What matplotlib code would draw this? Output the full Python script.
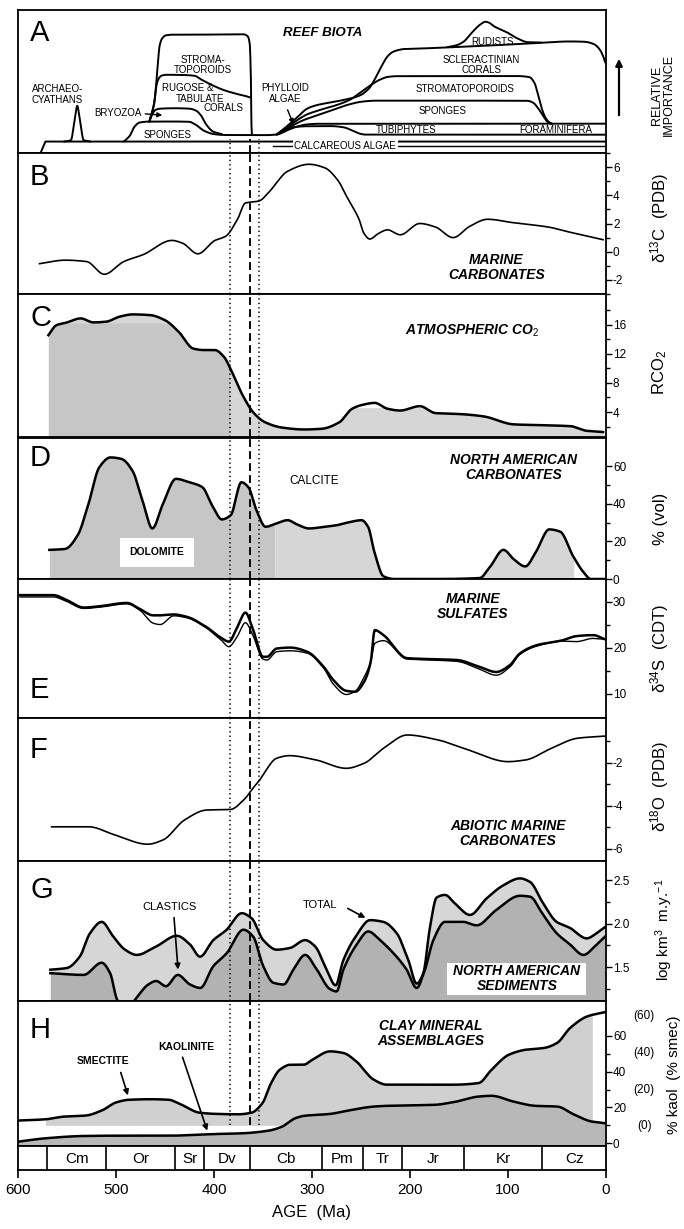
import numpy as np
import matplotlib
matplotlib.use("Agg")
import matplotlib.pyplot as plt
from matplotlib.ticker import FormatStrFormatter

# ---------------- DATA (age in Ma) ----------------
# A  reef biota (relative importance, arbitrary 0-100 units)
a_algae_age = [577, 572, 0]
a_algae_v = [0, 8, 8]
a_archaeo_age = [553, 546, 542, 539.5, 537, 533, 526]
a_archaeo_v = [8, 9, 24, 33, 24, 9, 8]
a_spongeP_age = [492, 486, 481, 476, 465, 440, 425, 418, 410, 400, 390, 370, 345]
a_spongeP_v = [8, 12, 18.5, 21.3, 22, 22, 21.8, 19.5, 15.5, 13.2, 12.6, 12.5, 12.5]
a_bryo_age = [466, 463, 460, 455, 440, 425, 418, 413, 408, 401, 392]
a_bryo_v = [22, 27, 30, 31, 31.3, 31, 29.5, 26, 20, 15, 13.2]
a_rugose_age = [466, 461, 458.5, 456, 453, 448, 430, 420, 412, 402, 390, 375, 366, 363]
a_rugose_v = [22, 35, 48, 52.5, 54.2, 54.7, 54.5, 54, 51, 47.5, 44, 41, 39.5, 38.8]
a_stromP_age = [466, 461, 458.5, 457, 455.5, 453, 449, 440, 400, 370, 365.5, 363.5, 362.3, 361.8, 361.3]
a_stromP_v = [22, 35, 52, 65, 75, 80, 82.3, 82.8, 82.8, 83, 81.5, 76, 50, 20, 12.5]
a_tubi_age = [345, 335, 328, 320, 300, 280, 268, 258, 250, 244, 0]
a_tubi_v = [12.5, 13, 15, 18, 18.8, 18.8, 18, 15.5, 13.3, 12.8, 12.8]
a_spongeMb_age = [336, 325, 315, 305, 290, 0]
a_spongeMb_v = [13, 16, 18.5, 20, 20.5, 20.5]
a_spongeMt_age = [336, 325, 315, 305, 290, 275, 262, 248, 235, 150, 80, 74, 69, 64, 60, 56]
a_spongeMt_v = [13, 17, 21, 24, 27.5, 31, 34, 36, 36.6, 36.6, 36.5, 35, 31, 26, 22, 20.5]
a_stromM_age = [336, 325, 315, 305, 290, 275, 262, 250, 240, 230, 222, 210, 150, 90, 78, 73, 69, 65, 62, 58, 55]
a_stromM_v = [13, 18, 23, 27, 30.5, 33.5, 37, 42.5, 47.5, 51.5, 53.3, 53.8, 53.8, 53.8, 53, 49, 40, 30, 25, 21.5, 20.5]
a_scler_age = [336, 325, 315, 305, 295, 280, 265, 252, 242, 234, 228, 223, 218, 212, 205, 180, 150, 100, 60, 38, 22, 12, 6, 2, 0.5]
a_scler_v = [13, 19, 25, 31, 33.5, 35.5, 37.5, 40, 45, 54, 62, 67.5, 70.5, 72, 72.8, 73.3, 74.2, 75.8, 77.3, 78, 77.8, 76, 72, 66, 63]
a_rudist_age = [162, 152, 145, 139, 133, 127, 123, 119, 114, 108, 100, 90, 80, 72, 66]
a_rudist_v = [74, 75.5, 78, 82.5, 87, 90.5, 91.8, 91, 88.5, 86.5, 84, 80, 77.5, 77.3, 77.2]

# B  delta13C (PDB)
b_age = [578, 552, 530, 512, 492, 472, 443, 432, 416.5, 399, 388, 376, 368, 354, 343, 325, 303, 287,
         274, 263, 252, 247, 241, 232, 223, 210, 190, 174, 156, 139, 121, 94, 59, 32, 3]
b_d13c = [-0.85, -0.6, -0.7, -1.6, -0.7, -0.2, 0.8, 0.6, -0.15, 0.8, 1.1, 2.3, 3.45, 3.6, 4.3, 5.7, 6.2, 5.95,
          5.1, 3.7, 2.3, 1.3, 0.9, 1.3, 1.55, 1.2, 2.0, 1.75, 1.0, 1.8, 2.3, 2.05, 1.75, 1.3, 0.85]

# C  RCO2
c_age = [569, 561, 550, 536, 523, 510, 496, 483, 465, 450, 436, 421, 410, 399, 390, 381, 370, 359, 348,
         330, 308, 290, 272, 259, 248, 236, 223, 210, 190, 174, 147, 125, 94, 54, 36, 19, 3]
c_rco2 = [14.55, 15.9, 16.3, 16.85, 16.3, 16.4, 17.1, 17.4, 17.3, 16.6, 15.0, 12.7, 12.5, 12.5, 11.6, 9.3,
          6.1, 3.8, 2.6, 1.85, 1.6, 1.7, 2.6, 4.45, 5.0, 5.25, 4.45, 4.2, 4.8, 3.85, 3.7, 3.4, 2.3, 2.15,
          2.05, 1.4, 1.25]

# D  dolomite % (vol) of North American carbonates
d_age = [568, 552, 539, 528, 517, 505.6, 494.4, 483.3, 472, 463, 452, 438.8, 425.4, 412, 401, 392, 383,
         372, 365, 356, 347.4, 336, 325, 314, 303, 287, 274, 260.6, 249.4, 242.8, 236, 227, 216, 171.5,
         129, 118, 104.7, 93.5, 82.4, 71.3, 57.9, 46.8, 33.4, 22.3, 15.6, 0]
d_dolo = [15.5, 16, 23.4, 40.1, 59.5, 64.7, 63.9, 57.7, 40.1, 26.9, 40.1, 53.3, 51.5, 48.9, 38.3, 31.7,
          33.9, 51.5, 48.9, 35.7, 27.8, 29.6, 31.3, 28.7, 26.9, 27.8, 28.7, 30.4, 31.3, 27.8, 13.7, 1.4,
          0, 0, 0.5, 6.7, 15.5, 10.2, 6.7, 14.6, 26.4, 25.2, 12, 3.2, 0, 0]

# E  delta34S (CDT), two marine sulfate curves
e_age = [598, 564, 550, 533, 516, 489, 475, 462, 455, 441, 428, 408, 392, 385, 376, 368, 360, 350, 346,
         336, 322, 305, 288, 278, 265, 256, 247, 240, 236, 227, 203, 180, 152, 129, 112, 98, 88, 71, 44,
         30, 13, 1]
e_s1 = [31.4, 31.4, 30.3, 28.7, 29.0, 29.7, 28.3, 27.0, 27.0, 27.2, 26.7, 24.5, 22.0, 21.3, 24.5, 27.6,
        23.8, 18.0, 18.0, 19.8, 20.0, 19.1, 15.8, 12.9, 10.6, 10.4, 12.5, 17.0, 23.8, 22.7, 17.7, 17.5,
        17.3, 15.8, 14.7, 16.2, 18.7, 20.5, 21.6, 22.5, 22.7, 21.8]
e_s2 = [31.0, 31.0, 30.0, 28.5, 28.8, 29.5, 28.0, 25.3, 25.0, 26.9, 26.5, 24.3, 21.5, 20.2, 22.5, 25.4,
        22.5, 17.5, 17.3, 19.1, 19.3, 18.8, 15.5, 12.0, 9.8, 10.5, 13.5, 17.0, 20.9, 21.5, 17.5, 17.3,
        17.0, 15.3, 14.0, 15.8, 18.5, 20.3, 21.4, 21.3, 22.0, 21.8]

# F  delta18O (PDB), abiotic marine carbonates
f_age = [565.7, 527.8, 501, 467.7, 452, 430, 407.6, 383, 369.7, 358.6, 354, 336, 323, 296, 265, 247,
         225, 203, 171.5, 140, 100, 82, 55.7, 29, 0.5]
f_d18o = [-4.99, -4.99, -5.37, -5.8, -5.6, -4.67, -4.21, -4.18, -3.74, -3.1, -2.85, -1.8, -1.68, -1.88,
          -2.27, -2.04, -1.27, -0.72, -0.95, -1.42, -1.96, -1.88, -1.34, -0.87, -0.77]

# G  North American sediments, log km3/m.y.
g_total_age = [567, 550, 537, 526.5, 514.6, 502.7, 490.8, 478.9, 458.5, 438, 424.5, 414.3, 400.7, 387,
               371.7, 361.5, 349.7, 336, 322.4, 307, 297, 285, 276, 268, 254.4, 240.8, 227.2, 213.6,
               201.7, 193.2, 186.4, 179.6, 172.8, 164.3, 154, 138.8, 121.8, 104.8, 87.8, 77.6, 64, 50.4,
               36.7, 19.7, 9.5, 1]
g_total = [1.47, 1.49, 1.62, 1.89, 2.02, 1.85, 1.70, 1.64, 1.74, 1.86, 1.76, 1.62, 1.81, 1.93, 2.12,
           2.06, 1.81, 1.70, 1.72, 1.81, 1.74, 1.47, 1.29, 1.58, 1.87, 2.04, 2.02, 1.89, 1.58, 1.31, 1.43,
           1.96, 2.30, 2.33, 2.23, 2.10, 2.29, 2.44, 2.52, 2.48, 2.23, 2.02, 1.95, 1.83, 1.89, 1.96]
g_clast_age = [567, 533, 514.6, 506, 499, 490, 479, 467, 459, 449, 437, 424.5, 414, 400.7, 387, 370, 360,
               349.7, 339.5, 329, 319, 307, 295, 282, 275, 268, 254.4, 242.6, 230.6, 215.3, 203.4, 193.2,
               184.7, 176.2, 164.3, 145.6, 132, 111.6, 87.8, 77.6, 64, 50.4, 36.7, 23.1, 9.5, 1]
g_clast = [1.43, 1.41, 1.55, 1.43, 1.13, 1.0, 1.15, 1.30, 1.34, 1.28, 1.41, 1.30, 1.26, 1.51, 1.66, 1.93,
           1.85, 1.51, 1.32, 1.30, 1.47, 1.64, 1.47, 1.25, 1.22, 1.47, 1.76, 1.91, 1.81, 1.64, 1.47, 1.26,
           1.47, 1.81, 2.02, 2.02, 1.98, 2.16, 2.32, 2.31, 2.10, 1.89, 1.76, 1.64, 1.76, 1.85]

# H  clay mineral assemblages
h_smec_age = [600, 571.9, 553.1, 530.9, 513, 500, 486.5, 464, 446.3, 433, 415, 397.4, 375, 361.7, 350.6,
              341.7, 332.8, 321.6, 308.3, 299.4, 281.5, 268, 254.8, 237, 223.6, 196.9, 156.8, 130, 116.7,
              98.9, 81, 63.3, 49.9, 36.5, 18.7, 0.9]
h_smec = [12.7, 13.4, 14.9, 15.5, 18.7, 22.8, 24.3, 24.6, 24.3, 21.5, 17.1, 16.4, 16.2, 17.1, 22.4, 33.6,
          41.1, 43.9, 43.9, 46.7, 51.3, 50.4, 45.7, 35.5, 32.7, 32.7, 32.7, 33.6, 41.1, 49.5, 52.3, 53.2,
          56, 64.4, 70.9, 73.2]
h_kaol_age = [600, 572, 532, 486.5, 442, 397.4, 370.6, 344, 330.5, 317, 308.3, 281.5, 259, 237, 219,
              174.6, 152.4, 130, 116.7, 94.4, 72, 49.9, 32, 14.3, 0.9]
h_kaol = [0.9, 2.8, 4.1, 4.3, 4.3, 5.2, 5.6, 7.1, 9.3, 14.0, 15.3, 16.4, 18.7, 20.5, 21.0, 21.5, 23.3,
          26.1, 26.5, 23.3, 20.9, 20.5, 15.9, 12.1, 11.2]

# geologic periods
period_bounds = [600, 570, 510, 440, 410, 363, 290, 248, 208, 145, 65, 0]
period_names = ["", "Cm", "Or", "Sr", "Dv", "Cb", "Pm", "Tr", "Jr", "Kr", "Cz"]
boundary_dotted = [384, 354]
boundary_dashed = 363

# ---------------- helpers ----------------
def pchip(x, y, xq):
    x = np.asarray(x, float); y = np.asarray(y, float)
    o = np.argsort(x); x = x[o]; y = y[o]
    h = np.diff(x); d = np.diff(y) / h
    n = len(x)
    m = np.zeros(n)
    for k in range(1, n - 1):
        if d[k - 1] * d[k] > 0:
            w1 = 2 * h[k] + h[k - 1]; w2 = h[k] + 2 * h[k - 1]
            m[k] = (w1 + w2) / (w1 / d[k - 1] + w2 / d[k])
    m[0] = d[0]; m[-1] = d[-1]
    xq = np.asarray(xq, float)
    i = np.clip(np.searchsorted(x, xq) - 1, 0, n - 2)
    t = (xq - x[i]) / h[i]
    h00 = (1 + 2 * t) * (1 - t) ** 2
    h10 = t * (1 - t) ** 2
    h01 = t ** 2 * (3 - 2 * t)
    h11 = t ** 2 * (t - 1)
    out = h00 * y[i] + h10 * h[i] * m[i] + h01 * y[i + 1] + h11 * h[i] * m[i + 1]
    return np.where((xq < x[0]) | (xq > x[-1]), np.nan, out)

def smooth(age, val, n=900):
    a = np.asarray(age, float)
    xs = np.linspace(a.min(), a.max(), n)
    return xs, pchip(age, val, xs)

plt.rcParams['font.family'] = ['Liberation Sans', 'DejaVu Sans']
plt.rcParams['mathtext.fontset'] = 'custom'
plt.rcParams['mathtext.rm'] = 'Liberation Sans'
plt.rcParams['mathtext.it'] = 'Liberation Sans:italic'
plt.rcParams['mathtext.bf'] = 'Liberation Sans:bold'
plt.rcParams['axes.unicode_minus'] = False
plt.rcParams['axes.linewidth'] = 1.3

W, H = 684, 1229
fig = plt.figure(figsize=(W / 100, H / 100), dpi=100)
L, R = 18, 606
LIGHT = '#d6d6d6'

def add_panel(top, bot, ylim, major=None, minor=None, fmt=None):
    ax = fig.add_axes([L / W, 1 - bot / H, (R - L) / W, (bot - top) / H])
    ax.set_xlim(600, 0)
    ax.set_ylim(*ylim)
    ax.set_xticks([])
    ax.yaxis.tick_right()
    if major is not None:
        ax.set_yticks(major)
        if fmt:
            ax.yaxis.set_major_formatter(FormatStrFormatter(fmt))
    else:
        ax.set_yticks([])
    if minor is not None:
        ax.set_yticks(minor, minor=True)
    ax.tick_params(axis='y', which='major', direction='out', length=4, width=1, labelsize=8.5, pad=1)
    ax.tick_params(axis='y', which='minor', direction='out', length=3, width=1)
    return ax

def ftext(x, y, s, **kw):
    fig.text(x / W, 1 - y / H, s, **kw)

def vlines(ax, ymin=0.0, ymax=1.0):
    for a in boundary_dotted:
        ax.axvline(a, ymin=ymin, ymax=ymax, color='k', ls=(0, (0.9, 2.0)), lw=1.1, zorder=6)
    ax.axvline(boundary_dashed, ymin=ymin, ymax=ymax, color='k', ls=(0, (4.2, 2.2)), lw=1.35, zorder=6)

BI = dict(fontweight='bold', fontstyle='italic', fontsize=10, ha='center', va='center', linespacing=1.1)

# ---------------- A ----------------
axA = add_panel(10, 153, (0, 100))
axA.set_yticks([])
lwA = 1.4
axA.plot(a_algae_age, a_algae_v, color='k', lw=lwA)
axA.plot([340, 0], [5.2, 5.2], color='k', lw=1.0)
for age, val in [(a_archaeo_age, a_archaeo_v), (a_spongeP_age, a_spongeP_v), (a_bryo_age, a_bryo_v),
                 (a_rugose_age, a_rugose_v), (a_stromP_age, a_stromP_v), (a_tubi_age, a_tubi_v),
                 (a_spongeMb_age, a_spongeMb_v), (a_spongeMt_age, a_spongeMt_v),
                 (a_stromM_age, a_stromM_v), (a_scler_age, a_scler_v), (a_rudist_age, a_rudist_v)]:
    xs, ys = smooth(age, val)
    axA.plot(xs, ys, color='k', lw=lwA, solid_capstyle='round')
vlines(axA, ymin=0.0, ymax=0.1)
ta = dict(fontsize=7, ha='center', va='center', linespacing=1.05)
axA.text(560, 41, 'ARCHAEO-\nCYATHANS', **ta)
axA.text(498, 28.2, 'BRYOZOA', **ta)
axA.annotate('', xy=(450, 26.3), xytext=(473, 27.5),
             arrowprops=dict(arrowstyle='-|>', lw=1.0, color='k', mutation_scale=7))
axA.text(447, 12.8, 'SPONGES', **ta)
axA.text(411, 61.5, 'STROMA-\nTOPOROIDS', **ta)
axA.text(427, 45.2, 'RUGOSE &', **ta)
axA.text(414, 37.5, 'TABULATE', **ta)
axA.text(390, 31.3, 'CORALS', **ta)
axA.text(327, 41.5, 'PHYLLOID\nALGAE', **ta)
axA.annotate('', xy=(318, 18.5), xytext=(326, 32),
             arrowprops=dict(arrowstyle='-|>', lw=1.0, color='k', mutation_scale=7))
axA.text(289, 84, 'REEF BIOTA', fontweight='bold', fontstyle='italic', fontsize=9.5, ha='center', va='center')
axA.text(115.6, 77.6, 'RUDISTS', **ta)
axA.text(127, 61.7, 'SCLERACTINIAN\nCORALS', **ta)
axA.text(144, 44.5, 'STROMATOPOROIDS', **ta)
axA.text(166.7, 29.5, 'SPONGES', **ta)
axA.text(204, 16.3, 'TUBIPHYTES', **ta)
axA.text(51, 16.3, 'FORAMINIFERA', **ta)
axA.text(266, 4.8, 'CALCAREOUS ALGAE', fontsize=7, ha='center', va='center',
         bbox=dict(facecolor='white', edgecolor='none', pad=1.0), zorder=7)
ftext(30, 33, 'A', fontsize=21, ha='left', va='center')
ftext(663, 95, 'RELATIVE\nIMPORTANCE', rotation=90, fontsize=9, ha='center', va='center', linespacing=1.0)
fig.add_artist(matplotlib.patches.FancyArrowPatch((619 / W, 1 - 118 / H), (619 / W, 1 - 56 / H),
               transform=fig.transFigure, arrowstyle='-|>', mutation_scale=10, lw=1.6, color='k'))

# ---------------- B ----------------
axB = add_panel(153, 294, (-3, 7), [-2, 0, 2, 4, 6], [-3, -1, 1, 3, 5, 7])
xs, ys = smooth(b_age, b_d13c)
axB.plot(xs, ys, color='k', lw=1.2)
vlines(axB)
axB.text(112, -1.1, 'MARINE\nCARBONATES', **BI)
ftext(30, 177, 'B', fontsize=21, ha='left', va='center')
ftext(660, 218, 'δ$^{13}$C  (PDB)', rotation=90, fontsize=12, ha='center', va='center')

# ---------------- C ----------------
axC = add_panel(294, 437.5, (0.5, 20.2), [4, 8, 12, 16], [2, 6, 10, 14, 18])
xg = np.linspace(0, 600, 2401)
cy = pchip(c_age, c_rco2, xg)
ok = ~np.isnan(cy)
top_light = np.where(xg < 345, np.minimum(cy, 4.6), cy)
axC.fill_between(xg[ok], 0.5, top_light[ok], color=LIGHT, lw=0)
dk = ok & (xg >= 384)
axC.fill_between(xg[dk], 0.5, np.minimum(cy, 16.2)[dk], color='#c6c6c6', lw=0)
xs, ys = smooth(c_age, c_rco2)
axC.plot(xs, ys, color='k', lw=1.8)
vlines(axC)
axC.text(136, 15.2, 'ATMOSPHERIC CO$_2$', **BI)
ftext(30, 318, 'C', fontsize=21, ha='left', va='center')
ftext(660, 372, 'RCO$_2$', rotation=90, fontsize=12, ha='center', va='center')

# ---------------- D ----------------
axD = add_panel(437.5, 579, (0, 75.3), [0, 20, 40, 60], [10, 30, 50])
dy = pchip(d_age, d_dolo, xg)
ok = ~np.isnan(dy)
m1 = ok & (xg >= 338)
m2 = ok & (xg <= 338) & (xg >= 33)
axD.fill_between(xg[m1], 0, dy[m1], color='#c6c6c6', lw=0)
axD.fill_between(xg[m2], 0, dy[m2], color=LIGHT, lw=0)
xs, ys = smooth(d_age, d_dolo)
axD.plot(xs, np.clip(ys, 0, None), color='k', lw=1.8)
vlines(axD)
axD.text(458, 14.2, 'DOLOMITE', fontsize=7.5, fontweight='bold', ha='center', va='center',
         bbox=dict(facecolor='white', edgecolor='none', boxstyle='square,pad=0.9'), zorder=7)
axD.text(298, 52, 'CALCITE', fontsize=8.5, ha='center', va='center')
axD.text(94, 59.4, 'NORTH AMERICAN\nCARBONATES', **BI)
ftext(30, 458, 'D', fontsize=21, ha='left', va='center')
ftext(660, 519, '% (vol)', rotation=90, fontsize=12, ha='center', va='center')

# ---------------- E ----------------
axE = add_panel(579, 718, (4.7, 34.9), [10, 20, 30], [15, 25])
xs, ys = smooth(e_age, e_s1)
axE.plot(xs, ys, color='k', lw=1.8)
xs, ys = smooth(e_age, e_s2)
axE.plot(xs, ys, color='k', lw=1.0)
vlines(axE)
axE.text(136, 29, 'MARINE\nSULFATES', **BI)
ftext(30, 690, 'E', fontsize=21, ha='left', va='center')
ftext(660, 648, 'δ$^{34}$S  (CDT)', rotation=90, fontsize=12, ha='center', va='center')

# ---------------- F ----------------
axF = add_panel(718, 861, (-6.58, 0.07), [-6, -4, -2], [-5, -3, -1])
xs, ys = smooth(f_age, f_d18o)
axF.plot(xs, ys, color='k', lw=1.2)
vlines(axF)
axF.text(100, -5.3, 'ABIOTIC MARINE\nCARBONATES', **BI)
ftext(30, 750, 'F', fontsize=21, ha='left', va='center')
ftext(660, 786, 'δ$^{18}$O  (PDB)', rotation=90, fontsize=12, ha='center', va='center')

# ---------------- G ----------------
axG = add_panel(861, 1001, (1.11, 2.72), [1.5, 2.0, 2.5], [1.25, 1.75, 2.25], fmt='%.1f')
ty = pchip(g_total_age, g_total, xg)
cl = pchip(g_clast_age, g_clast, xg)
ok = ~np.isnan(ty)
axG.fill_between(xg[ok], 1.11, ty[ok], color=LIGHT, lw=0)
ok2 = ~np.isnan(cl)
axG.fill_between(xg[ok2], 1.11, cl[ok2], color='#b2b2b2', lw=0)
xs, ys = smooth(g_total_age, g_total)
axG.plot(xs, ys, color='k', lw=1.8, zorder=4)
xs, ys = smooth(g_clast_age, g_clast)
axG.plot(xs, ys, color='k', lw=1.8, zorder=4)
vlines(axG)
axG.add_patch(matplotlib.patches.Rectangle((162, 1.18), -142, 0.37, facecolor='white', edgecolor='none', zorder=3))
axG.text(91, 1.365, 'NORTH AMERICAN\nSEDIMENTS', zorder=5, **BI)
axG.text(445, 2.19, 'CLASTICS', fontsize=8, ha='center', va='center')
axG.annotate('', xy=(436.5, 1.44), xytext=(441, 2.10),
             arrowprops=dict(arrowstyle='-|>', lw=1.2, color='k', mutation_scale=8))
axG.text(292, 2.21, 'TOTAL', fontsize=8, ha='center', va='center')
axG.annotate('', xy=(243, 2.05), xytext=(266, 2.19),
             arrowprops=dict(arrowstyle='-|>', lw=1.2, color='k', mutation_scale=8))
ftext(30, 890, 'G', fontsize=21, ha='left', va='center')
ftext(664, 930, 'log km$^3$  m.y.$^{-1}$', rotation=90, fontsize=11, ha='center', va='center')

# ---------------- H ----------------
axH = add_panel(1001, 1146, (-1.5, 79.4), [0, 20, 40, 60], [10, 30, 50])
sy = pchip(h_smec_age, h_smec, xg)
ky = pchip(h_kaol_age, h_kaol, xg)
m = (xg >= 14) & (xg <= 572)
axH.fill_between(xg[m], np.maximum(ky, 10)[m], sy[m], color='#d0d0d0', lw=0)
axH.fill_between(xg, -1.5, ky, color='#b8b8b8', lw=0)
xs, ys = smooth(h_smec_age, h_smec)
axH.plot(xs, ys, color='k', lw=1.8)
xs, ys = smooth(h_kaol_age, h_kaol)
axH.plot(xs, ys, color='k', lw=1.8)
vlines(axH, ymin=(10 + 1.5) / 80.9)
for lab, v in [('(0)', 9.5), ('(20)', 30), ('(40)', 50.5), ('(60)', 71)]:
    axH.text(1.065, v, lab, transform=axH.get_yaxis_transform(), fontsize=8.5, ha='center', va='center')
axH.text(179, 61.2, 'CLAY MINERAL\nASSEMBLAGES', **BI)
axH.text(513, 45.7, 'SMECTITE', fontsize=7.5, fontweight='bold', ha='center', va='center')
axH.annotate('', xy=(487, 25.3), xytext=(496, 41),
             arrowprops=dict(arrowstyle='-|>', lw=1.2, color='k', mutation_scale=8))
axH.text(428, 54, 'KAOLINITE', fontsize=7.5, fontweight='bold', ha='center', va='center')
axH.annotate('', xy=(406, 5.6), xytext=(433, 49.5),
             arrowprops=dict(arrowstyle='-|>', lw=1.2, color='k', mutation_scale=8))
ftext(30, 1030, 'H', fontsize=21, ha='left', va='center')
ftext(674, 1075, '% kaol  (% smec)', rotation=90, fontsize=11, ha='center', va='center')

# ---------------- period bar and age axis ----------------
axP = fig.add_axes([L / W, 1 - 1170 / H, (R - L) / W, 24 / H])
axP.set_xlim(600, 0); axP.set_ylim(0, 1)
axP.set_yticks([])
for b in period_bounds[1:-1]:
    axP.axvline(b, color='k', lw=1.2)
for i, name in enumerate(period_names):
    if name:
        axP.text((period_bounds[i] + period_bounds[i + 1]) / 2, 0.45, name, fontsize=11,
                 ha='center', va='center')
axP.set_xticks([600, 500, 400, 300, 200, 100, 0])
axP.tick_params(axis='x', direction='out', length=6, width=1.2, labelsize=11, pad=3)
axP.set_xlabel('AGE  (Ma)', fontsize=12, labelpad=6)

fig.savefig('out.png', dpi=100)
